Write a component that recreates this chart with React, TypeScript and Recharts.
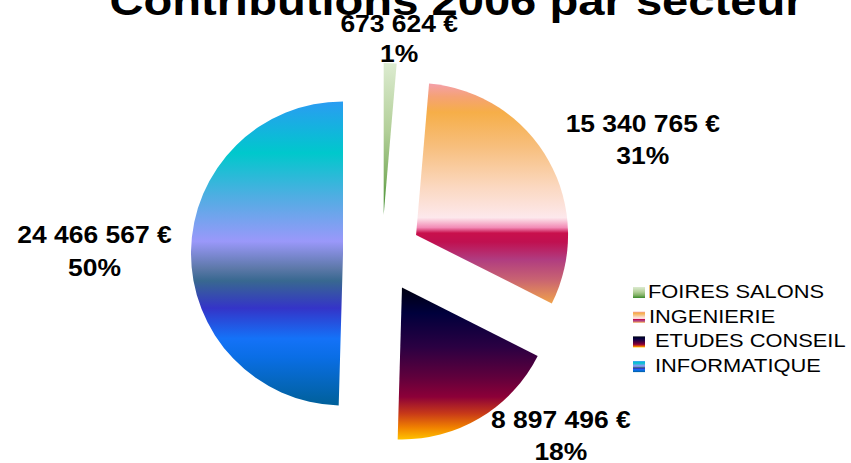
import React from 'react';
import { PieChart, Pie, Cell, Sector, Legend } from 'recharts';

// ---- data ----
const categories = ['FOIRES SALONS', 'INGENIERIE', 'ETUDES CONSEIL', 'INFORMATIQUE'];
const contributions = [673624, 15340765, 8897496, 24466567];
const chartTitle = 'Contributions 2006 par secteur';

const data = categories.map((name, i) => ({ name, value: contributions[i] }));

// ---- styles ----
const W = 851;
const H = 463;
const FONT = '"Liberation Sans", Arial, Helvetica, sans-serif';
const STRETCH = 1.15;
const RAD = Math.PI / 180;
const EXPLODE = 39;

const GRADIENTS: { id: string; stops: [number, string][] }[] = [
  { id: 'gFoires', stops: [[0, '#dcebd0'], [0.45, '#b2cf98'], [0.75, '#82b266'], [1, '#3a8a2a']] },
  {
    id: 'gIngenierie',
    stops: [
      [0, '#f4a0aa'], [0.06, '#f5a274'], [0.13, '#f6ae48'], [0.29, '#f7bf7e'], [0.47, '#fbd8c0'],
      [0.61, '#fde8ec'], [0.655, '#f28ab6'], [0.68, '#c8104c'], [0.72, '#c01050'], [0.8, '#b03c80'],
      [0.89, '#c86272'], [1, '#f0a24c'],
    ],
  },
  {
    id: 'gEtudes',
    stops: [
      [0, '#000010'], [0.17, '#00003c'], [0.39, '#2a0042'], [0.59, '#60003c'], [0.72, '#8c0038'],
      [0.83, '#c83a18'], [0.92, '#f08000'], [1, '#ffc200'],
    ],
  },
  {
    id: 'gInformatique',
    stops: [
      [0, '#2a9cf2'], [0.17, '#00c8cc'], [0.31, '#4eaee2'], [0.46, '#9a98fa'], [0.55, '#5c78a8'],
      [0.59, '#386890'], [0.68, '#3434c8'], [0.78, '#1472f8'], [0.84, '#0a6ee6'], [1, '#00609a'],
    ],
  },
];

// label nudges relative to the outer midpoint of each exploded slice
const LABEL_NUDGE = [
  { dx: 9, vy: -31, py: -1 },
  { dx: 94, vy: -29, py: 3 },
  { dx: 81, vy: 10, py: 42 },
  { dx: -96.5, vy: -8, py: 25 },
];

const LEG_X = 620;
const LEG_Y = 275;
const LEG_W = 231;
const LEG_H = 110;
const LEG_TEXT_X = [648, 649, 655, 655];
const LEG_BASE = 298;
const LEG_STEP = 24.7;

const formatEuro = (v: number) =>
  String(Math.round(v)).replace(/\B(?=(\d{3})+(?!\d))/g, ' ') + ' €';

const renderSlice = (props: any) => {
  const { cx, cy, innerRadius, outerRadius, startAngle, endAngle, midAngle, index, value, percent } = props;
  const ux = Math.cos(-midAngle * RAD);
  const uy = Math.sin(-midAngle * RAD);
  const ex = cx + EXPLODE * ux;
  const ey = cy + EXPLODE * uy;
  const ox = ex + outerRadius * ux;
  const oy = ey + outerRadius * uy;
  const n = LABEL_NUDGE[index];
  const lx = ox + n.dx;
  const textStyle = { fontFamily: FONT, fontSize: 23, fontWeight: 700, fill: '#000' } as any;
  return (
    <g key={`slice-${index}`}>
      <Sector
        cx={ex}
        cy={ey}
        innerRadius={innerRadius}
        outerRadius={outerRadius}
        startAngle={startAngle}
        endAngle={endAngle}
        fill={`url(#${GRADIENTS[index].id})`}
        stroke="none"
      />
      <text transform={`translate(${lx},${oy + n.vy}) scale(${STRETCH},1)`} textAnchor="middle" style={textStyle}>
        {formatEuro(value)}
      </text>
      <text transform={`translate(${lx},${oy + n.py}) scale(${STRETCH},1)`} textAnchor="middle" style={textStyle}>
        {`${Math.round(percent * 100)}%`}
      </text>
    </g>
  );
};

const renderLegend = (props: any) => {
  const payload: any[] = props.payload || [];
  // keep the data order (the legend sorts its payload by default)
  const ordered = categories.map((c) => payload.find((p) => p.value === c) || { value: c });
  return (
    <svg width={LEG_W} height={LEG_H} style={{ display: 'block' }}>
      {ordered.map((entry: any, i: number) => {
        const base = LEG_BASE + i * LEG_STEP - LEG_Y;
        return (
          <g key={`leg-${i}`}>
            <rect x={633 - LEG_X} y={base - 11} width={12} height={11} fill={`url(#${GRADIENTS[i].id})`} />
            <text
              transform={`translate(${LEG_TEXT_X[i] - LEG_X},${base}) scale(${STRETCH},1)`}
              style={{ fontFamily: FONT, fontSize: 19, fill: '#000' }}
            >
              {entry.value}
            </text>
          </g>
        );
      })}
    </svg>
  );
};

export default function App() {
  return (
    <div style={{ position: 'absolute', left: 0, top: 0, width: W, height: H, background: '#fff' }}>
      <PieChart width={W} height={H} margin={{ top: 0, right: 0, bottom: 0, left: 0 }}>
        <defs>
          {GRADIENTS.map((g) => (
            <linearGradient key={g.id} id={g.id} x1="0" y1="0" x2="0" y2="1">
              {g.stops.map(([o, c], k) => (
                <stop key={k} offset={o} stopColor={c} />
              ))}
            </linearGradient>
          ))}
        </defs>
        <text
          transform={`translate(456.5,15) scale(${STRETCH},1)`}
          textAnchor="middle"
          style={{ fontFamily: FONT, fontSize: 41, fontWeight: 700, fill: '#000' }}
        >
          {chartTitle}
        </text>
        <Pie
          data={data}
          dataKey="value"
          nameKey="name"
          cx={382}
          cy={254}
          innerRadius={0}
          outerRadius={152}
          startAngle={90}
          endAngle={-270}
          stroke="none"
          label={renderSlice}
          labelLine={false}
          isAnimationActive={false}
        >
          {data.map((d, i) => (
            <Cell key={`c-${i}`} fill="transparent" stroke="none" />
          ))}
        </Pie>
        <Legend
          content={renderLegend}
          wrapperStyle={{ left: LEG_X, top: LEG_Y, width: LEG_W, height: LEG_H }}
        />
      </PieChart>
    </div>
  );
}
